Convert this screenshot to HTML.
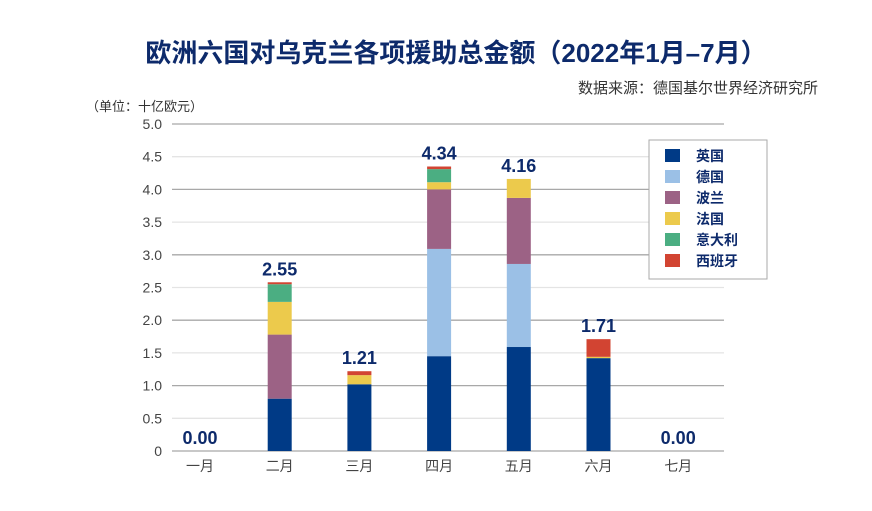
<!DOCTYPE html>
<html><head><meta charset="utf-8">
<style>
body{margin:0;background:#fff;width:872px;height:506px;overflow:hidden;font-family:"Liberation Sans","Noto Sans CJK SC",sans-serif;}
</style></head>
<body>
<svg id="chart" width="872" height="506" xmlns="http://www.w3.org/2000/svg" font-family="Liberation Sans, Noto Sans CJK SC, sans-serif">
<text x="456" y="62" text-anchor="middle" font-size="26" font-weight="bold" fill="#0d2a6b">欧洲六国对乌克兰各项援助总金额（2022年1月–7月）</text>
<text x="818" y="93" text-anchor="end" font-size="15" fill="#333">数据来源：德国基尔世界经济研究所</text>
<text x="86" y="111" font-size="13" fill="#333">（单位：十亿欧元）</text>
<g id="grid"></g><g id="bars"></g><g id="labels"></g>
<g id="legend"></g>
</svg>
<script>
const categories=["一月","二月","三月","四月","五月","六月","七月"];
const seriesNames=["英国","德国","波兰","法国","意大利","西班牙"];
const seriesColors=["#003a86","#9bc0e6","#9c6285","#ecca4c","#4bae82","#d24432"];
const uk=[0,0.80,1.02,1.45,1.59,1.42,0];
const de=[0,0,0,1.64,1.27,0,0];
const pl=[0,0.98,0,0.91,1.01,0,0];
const fr=[0,0.50,0.14,0.11,0.29,0.02,0];
const it=[0,0.27,0,0.20,0,0,0];
const es=[0,0.03,0.06,0.04,0,0.27,0];
const totals=["0.00","2.55","1.21","4.34","4.16","1.71","0.00"];
const yTicks=[0,0.5,1,1.5,2,2.5,3,3.5,4,4.5,5];
const yTickLabels=["0","0.5","1.0","1.5","2.0","2.5","3.0","3.5","4.0","4.5","5.0"];
const NS="http://www.w3.org/2000/svg";
const y=v=>451-v*65.4;
const x=i=>200+i*79.7;
function mk(t,a,p){const e=document.createElementNS(NS,t);for(const k in a)e.setAttribute(k,a[k]);p.appendChild(e);return e;}
const grid=document.getElementById('grid');
yTicks.forEach((v,i)=>{
  const l=mk('line',{x1:172,x2:724,y1:y(v),y2:y(v),stroke:(i%2===0)?'#a8a8a8':'#e4e4e4','stroke-width':1.3},grid);
  
  
  const t=mk('text',{x:162,y:y(v)+5,'text-anchor':'end','font-size':14,fill:'#444'},grid);
  t.textContent=yTickLabels[i];
  
  
});
categories.forEach((c,i)=>{
  const t=mk('text',{x:x(i),y:471,'text-anchor':'middle','font-size':14,fill:'#444'},grid);
  t.textContent=c;
  
  
});
const series=[uk,de,pl,fr,it,es];
const bars=document.getElementById('bars');
categories.forEach((c,i)=>{
  let acc=0;
  series.forEach((s,k)=>{
    const v=s[i]; if(v<=0) return;
    const r=mk('rect',{x:x(i)-12,y:y(acc+v),width:24,height:v*65.4,fill:seriesColors[k]},bars);
    
    
    acc+=v;
  });
  const t=mk('text',{x:x(i),y:y(acc)-7,'text-anchor':'middle','font-size':18,'font-weight':'bold',fill:'#0d2a6b'},document.getElementById('labels'));
  t.textContent=totals[i];
  
  
});
const lg=document.getElementById('legend');
const bx=mk('rect',{x:649,y:140,width:118,height:139,fill:'#fff',stroke:'#aaa','stroke-width':1},lg);


seriesNames.forEach((n,k)=>{
  const sw=mk('rect',{x:665,y:149+k*21,width:15,height:13,fill:seriesColors[k]},lg);
  
  
  const t=mk('text',{x:696,y:161+k*21,'font-size':14,'font-weight':'bold',fill:'#0d2a6b'},lg);
  t.textContent=n;
  
  
});
</script>
</body></html>
